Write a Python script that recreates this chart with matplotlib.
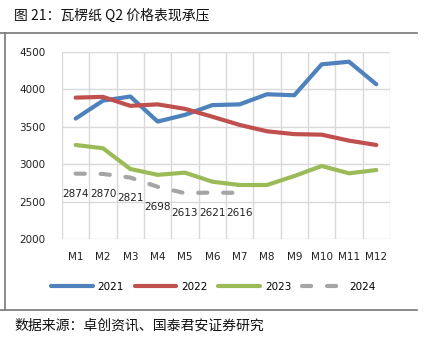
import matplotlib
matplotlib.use("Agg")
import matplotlib.pyplot as plt
from matplotlib.lines import Line2D
import numpy as np

plt.rcParams['font.family'] = ['Noto Sans CJK SC', 'DejaVu Sans']

months = ["M1", "M2", "M3", "M4", "M5", "M6", "M7", "M8", "M9", "M10", "M11", "M12"]
y2021 = [3610, 3850, 3905, 3570, 3660, 3790, 3800, 3935, 3922, 4335, 4370, 4068]
y2022 = [3890, 3900, 3780, 3800, 3740, 3635, 3525, 3440, 3402, 3395, 3315, 3257]
y2023 = [3257, 3213, 2936, 2858, 2887, 2766, 2722, 2722, 2842, 2976, 2878, 2922]
y2024 = [2874, 2870, 2821, 2698, 2613, 2621, 2616]
yticks = [2000, 2500, 3000, 3500, 4000, 4500]

W, H = 424, 344
fig = plt.figure(figsize=(W / 100, H / 100), dpi=100)

def fx(px):
    return px / W

def fy(py):
    return 1 - py / H

ax = fig.add_axes([fx(62), fy(239), fx(390) - fx(62), fy(52) - fy(239)])

x = np.arange(len(months))
lw = 3
dash = (0, (2.2, 3.8))
ax.plot(x, y2021, color='#4F81BD', lw=lw, label='2021', solid_capstyle='round', zorder=3)
ax.plot(x, y2022, color='#C0504D', lw=lw, label='2022', solid_capstyle='round', zorder=3)
ax.plot(x, y2023, color='#9BBB59', lw=lw, label='2023', solid_capstyle='round', zorder=3)
x24 = np.arange(len(y2024))
ax.plot(x24, y2024, color='#A5A5A5', lw=lw, ls=dash, label='2024',
        dash_capstyle='round', zorder=3)
for xi, v in zip(x24, y2024):
    ax.annotate(str(v), (xi, v), xytext=(0, -20), textcoords='offset pixels',
                ha='center', va='center', fontsize=7.5, color='#222222',
                family='DejaVu Sans')

ax.set_xlim(-0.5, len(months) - 0.5)
ax.set_ylim(2000, 4500)
ax.set_yticks(yticks)
ax.set_xticks(x)
ax.set_xticklabels(months, family='DejaVu Sans')
ax.set_xticks(np.arange(-0.5, len(months)), minor=True)
ax.grid(False)
ax.grid(True, axis='y', which='major', color='#D9D9D9', lw=1)
ax.grid(True, axis='x', which='minor', color='#D9D9D9', lw=1)
ax.tick_params(axis='both', which='both', length=0, labelsize=7.5, colors='#222222')
ax.tick_params(axis='x', pad=9)
ax.tick_params(axis='y', pad=12)
for lab in ax.get_yticklabels():
    lab.set_family('DejaVu Sans')
for s in ax.spines.values():
    s.set_visible(False)

handles = [Line2D([0], [0], color='#4F81BD', lw=3, solid_capstyle='round'),
           Line2D([0], [0], color='#C0504D', lw=3, solid_capstyle='round'),
           Line2D([0], [0], color='#9BBB59', lw=3, solid_capstyle='round'),
           Line2D([0], [0], color='#A5A5A5', lw=3, ls=dash, dash_capstyle='round')]
fig.legend(handles, ['2021', '2022', '2023', '2024'], loc='center',
           bbox_to_anchor=(fx(213), fy(287)), ncol=4, frameon=False,
           handlelength=4.0, columnspacing=1.0, handletextpad=0.5,
           prop={'family': 'DejaVu Sans', 'size': 7.5})

# frame lines
fig.add_artist(Line2D([0, fx(417)], [fy(33), fy(33)], color='#777777', lw=1.2))
fig.add_artist(Line2D([fx(5), fx(5)], [fy(33), fy(310)], color='#777777', lw=1.2))
fig.add_artist(Line2D([0, fx(417)], [fy(310), fy(310)], color='#777777', lw=1.2))

fig.text(fx(14), fy(16), '图 21：瓦楞纸 Q2 价格表现承压', fontsize=10, va='center',
         ha='left', color='#111111')
fig.text(fx(14), fy(326), '数据来源：卓创资讯、国泰君安证券研究', fontsize=10, va='center',
         ha='left', color='#111111')

fig.savefig('out.png', dpi=100)
